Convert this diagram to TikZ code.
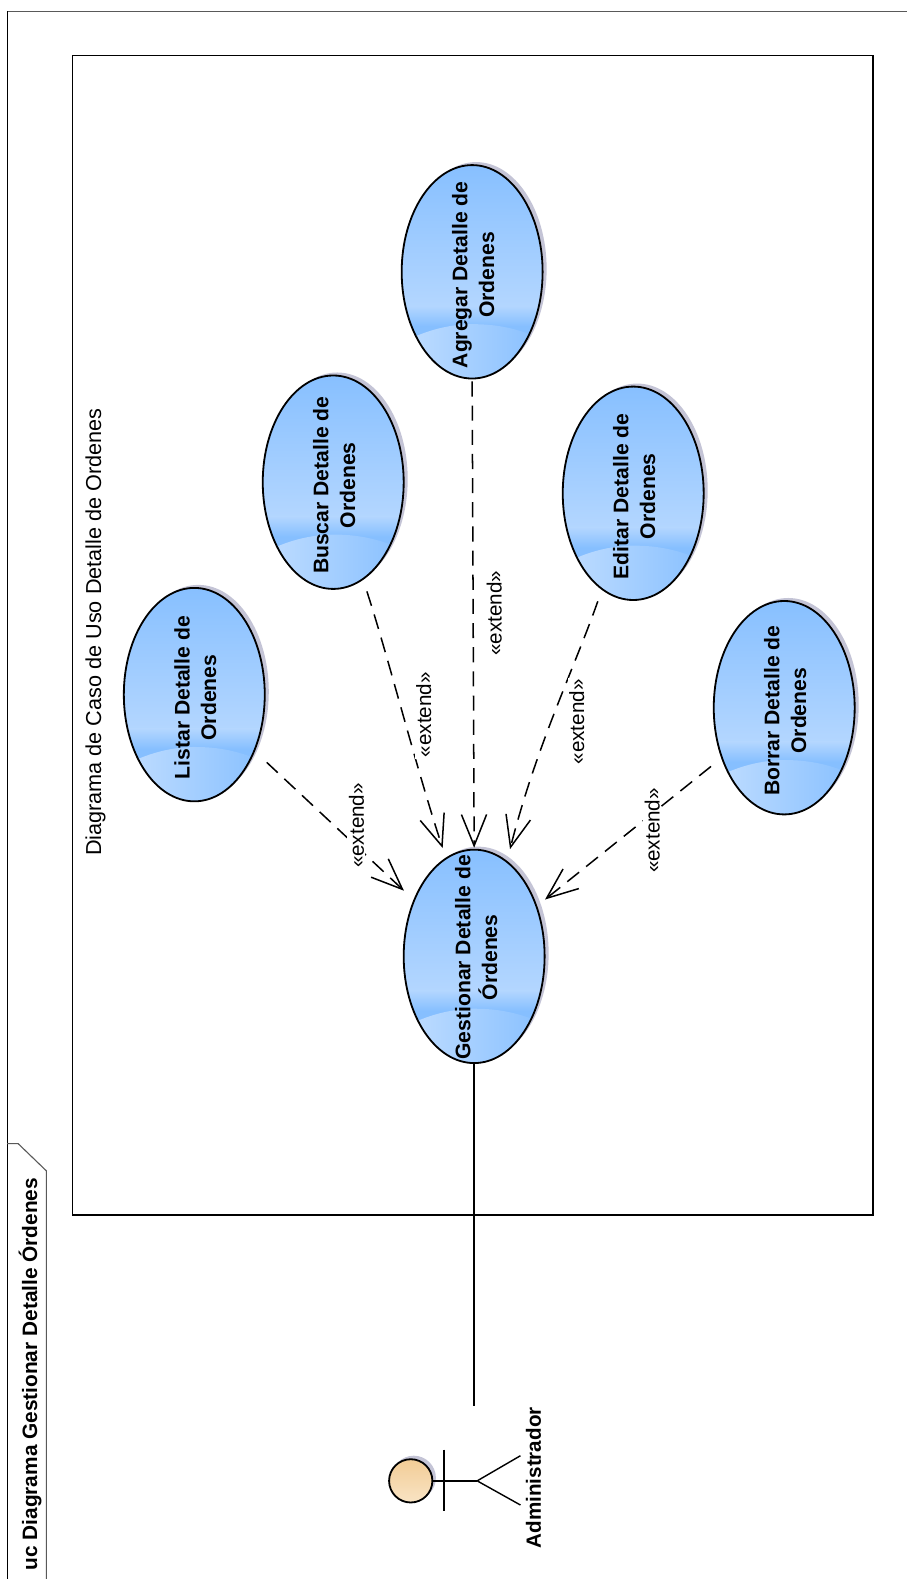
\documentclass[tikz,border=0pt]{standalone}
\usepackage{fontspec}
\setmainfont{Liberation Sans}
\usetikzlibrary{arrows.meta,shapes.geometric}
\definecolor{caseA}{HTML}{86BFFF}
\definecolor{caseB}{HTML}{B3D6FF}
\definecolor{caseC}{HTML}{C2DEFF}
\definecolor{caseD}{HTML}{93C6FF}
\definecolor{shadowc}{HTML}{C4C4D6}
\definecolor{headA}{HTML}{F2CC96}
\definecolor{headB}{HTML}{F9E4C4}
\tikzset{
  x=1pt,y=-1pt,
  frameline/.style={draw=black,line width=0.9pt},
  tabline/.style={draw=black!65,line width=1.1pt},
  boundary/.style={draw=black,line width=1.5pt},
  usecase/.style={ellipse,draw=black,line width=1.8pt,inner sep=0pt,
    minimum width=140pt,minimum height=212pt,
    path picture={
      \begin{scope}[shift={(path picture bounding box.center)}]
        \shade[top color=caseA,bottom color=caseB] (-75,-110) rectangle (75,34);
        \shade[top color=caseB,bottom color=caseA] (-75,34) rectangle (75,54);
        \fill[caseA] (-75,54) rectangle (75,110);
        \shade[left color=caseC,middle color=caseD,right color=caseA]
          (-56,64) .. controls (-35,55) and (-15,52) .. (0,52)
          .. controls (25,52) and (45,56) .. (72,68)
          -- (75,110) -- (-75,110) -- cycle;
      \end{scope}}},
  casetext/.style={rotate=90,font=\bfseries\fontsize{21pt}{26.5pt}\selectfont,align=center,inner sep=0pt},
  dep/.style={draw=black,line width=1.5pt,dash pattern=on 15pt off 9pt,
    -{Straight Barb[length=31pt,width=25pt]}},
  deptext/.style={rotate=90,fill=white,font=\fontsize{20.5pt}{24pt}\selectfont,inner sep=1.5pt},
  link/.style={draw=black,line width=1.5pt},
  stick/.style={draw=black,line width=1.4pt},
  actorhead/.style={circle,draw=black,line width=1.8pt,inner sep=0pt,minimum size=43pt,
    top color=headA,bottom color=headB}
}
\newcommand{\caseshadow}[2]{\fill[shadowc] (#1+4,#2-3) ellipse [x radius=70,y radius=106];}
\begin{document}
\begin{tikzpicture}
\useasboundingbox (0,0) rectangle (901,1568.5);
% package frame
\path[tabline] (7,11) -- (901,11);
\path[frameline] (7,1568.5) -- (7,11);
\path[tabline] (7,1136) -- (18,1136) -- (46,1163) -- (46,1568.5);
\node[rotate=90,font=\bfseries\fontsize{20.7pt}{24pt}\selectfont,inner sep=0pt] (tabtitle) at (30,1365) {uc Diagrama Gestionar Detalle Órdenes};
% boundary
\path[boundary] (72,55) rectangle (867,1207);
\node[rotate=90,font=\fontsize{21.5pt}{24pt}\selectfont,inner sep=0pt] (systitle) at (95,628) {Diagrama de Caso de Uso Detalle de Ordenes};
% use cases
\caseshadow{193}{690}\caseshadow{331}{479}\caseshadow{469}{270}\caseshadow{629}{490}\caseshadow{779}{703}\caseshadow{471}{950}
\node[usecase,label={[casetext,xshift=-3pt,yshift=-1pt]center:Listar Detalle de\\Ordenes}] (listar) at (193,690) {};
\node[usecase,label={[casetext,xshift=-3pt,yshift=-1pt]center:Buscar Detalle de\\Ordenes}] (buscar) at (331,479) {};
\node[usecase,label={[casetext,xshift=-3pt,yshift=-1pt]center:Agregar Detalle de\\Ordenes}] (agregar) at (469,270) {};
\node[usecase,label={[casetext,xshift=-3pt,yshift=-1pt]center:Editar Detalle de\\Ordenes}] (editar) at (629,490) {};
\node[usecase,label={[casetext,xshift=-3pt,yshift=-1pt]center:Borrar Detalle de\\Ordenes}] (borrar) at (779,703) {};
\node[usecase,label={[casetext,xshift=-1pt,yshift=-2pt]center:Gestionar Detalle de\\Órdenes}] (gest) at (471,950) {};
% extend connectors
\draw[dep,shorten <=16pt,shorten >=13pt] (listar) -- (gest);
\draw[dep,shorten <=13pt,shorten >=10pt] (borrar) -- (gest);
\draw[dep,shorten <=2pt,shorten >=1pt] (agregar.south) -- (gest.north);
\draw[dep,shorten <=12pt,shorten >=10pt] (buscar.-73) .. controls (385,650) and (414,765) .. (gest.106);
\draw[dep,shorten <=12pt,shorten >=12pt] (editar.-108) .. controls (570,665) and (533,740) .. (gest.71);
\node[deptext] (lx1) at (354,820) {«extend»};
\node[deptext] (lx2) at (421,710) {«extend»};
\node[deptext] (lx3) at (491,609) {«extend»};
\node[deptext] (lx4) at (573,717) {«extend»};
\node[deptext] (lx5) at (648,825) {«extend»};
% actor
\fill[shadowc] (411,1468) circle [radius=22];
\node[actorhead] (head) at (408,1471) {};
\coordinate (hip) at (474,1471);
\coordinate (armA) at (441,1440);
\coordinate (armB) at (441,1501);
\coordinate (legA) at (517,1446);
\coordinate (legB) at (517,1495);
\coordinate (actortop) at (471,1397);
\draw[stick] (head) -- (hip);
\draw[stick] (armA) -- (armB);
\draw[stick] (legA) -- (hip) -- (legB);
\node[rotate=90,font=\bfseries\fontsize{20.5pt}{24pt}\selectfont,inner sep=0pt] (adm) at (530,1468) {Administrador};
\draw[link] (gest.south) -- (actortop);
\end{tikzpicture}
\end{document}
